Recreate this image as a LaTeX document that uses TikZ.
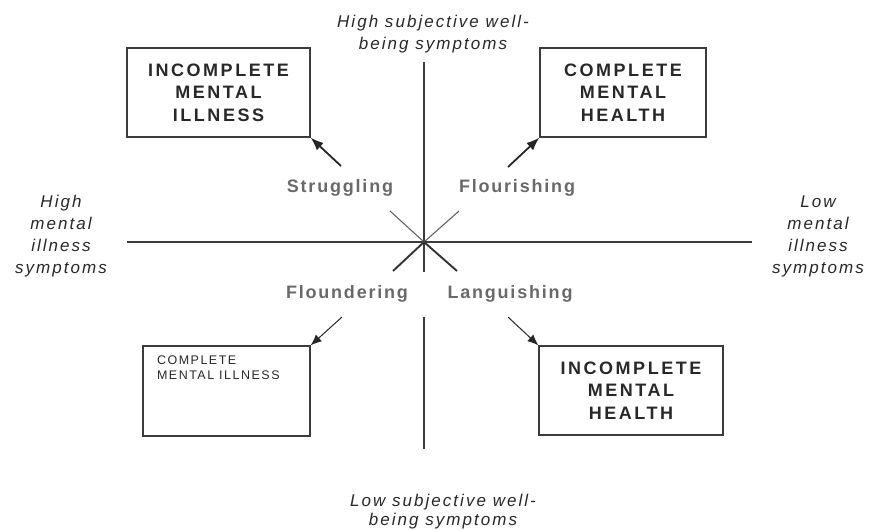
\documentclass[tikz,border=0pt]{standalone}
\usepackage{fontspec}
\setmainfont{Liberation Sans}
\newfontfamily\boxfont[LetterSpace=14]{Liberation Sans}
\newfontfamily\axisfont[LetterSpace=12]{Liberation Sans}
\newfontfamily\statefont[LetterSpace=10]{Liberation Sans}
\usetikzlibrary{arrows.meta, positioning}
\definecolor{axisgray}{RGB}{60,60,60}
\definecolor{textdark}{RGB}{40,40,40}
\definecolor{labelgray}{RGB}{105,105,105}
\tikzset{
  box/.style={rectangle, draw=axisgray, line width=1.3pt, inner sep=0pt},
  bigtext/.style={font=\boxfont\bfseries\fontsize{18}{22.5}\selectfont, text=textdark, align=center},
  state/.style={font=\statefont\bfseries\fontsize{18}{22}\selectfont, text=labelgray, anchor=base},
  axislabel/.style={font=\axisfont\itshape\fontsize{17}{22}\selectfont, text=textdark, align=center, anchor=base},
  axis/.style={line width=1.3pt, color=axisgray},
  diag/.style={line width=1.1pt, color=axisgray!80},
  diagdark/.style={line width=1.9pt, color=black!80},
  arrow/.style={-{Latex[length=13pt,width=10pt]}, line width=1.8pt, color=black!85},
  thinarrow/.style={-{Latex[length=11pt,width=9pt]}, line width=1pt, color=black!85}
}
\begin{document}
\begin{tikzpicture}[x=1pt, y=-1pt]
  \useasboundingbox (0,0) rectangle (873,530);

  % Axes
  \coordinate (c) at (424,242);
  \coordinate (top) at (424,62);
  \coordinate (vgap1) at (424,272);
  \coordinate (vgap2) at (424,317);
  \coordinate (bottom) at (424,449);
  \coordinate (left) at (127,242);
  \coordinate (right) at (752,242);
  \draw[axis] (top) -- (vgap1);
  \draw[axis] (vgap2) -- (bottom);
  \draw[axis] (left) -- (right);
  \draw[diag] (c) -- (390,211);
  \draw[diag] (c) -- (459,211);
  \draw[diagdark] (c) -- (393,271);
  \draw[diagdark] (c) -- (457,271);

  % Axis labels
  \node[axislabel] (hiwell) at (433,49) {High subjective well-\\being symptoms};
  \node[axislabel, font=\axisfont\itshape\fontsize{17}{19}\selectfont] (lowell) at (443,525) {Low subjective well-\\being symptoms};
  \node[axislabel] (himi) at (61,273) {High\\mental\\illness\\symptoms};
  \node[axislabel] (lomi) at (818,273) {Low\\mental\\illness\\symptoms};

  % Outcome boxes
  \node[box, bigtext, minimum width=183pt, minimum height=89pt] (incill) at (218.5,92.5) {INCOMPLETE\\MENTAL\\ILLNESS};
  \node[box, bigtext, minimum width=166pt, minimum height=89pt] (cmh) at (623,92.5) {COMPLETE\\MENTAL\\HEALTH};
  \node[box, minimum width=167pt, minimum height=90pt, text=textdark,
        font=\axisfont\fontsize{12.5}{15}\selectfont] (cmi) at (226.5,391)
        {\parbox[t][70pt][t]{139pt}{\raggedright COMPLETE\\MENTAL ILLNESS}};
  \node[box, bigtext, minimum width=184pt, minimum height=89pt] (imh) at (631,390.5) {INCOMPLETE\\MENTAL\\HEALTH};

  % States
  \node[state] (strug) at (340,192) {Struggling};
  \node[state] (flour) at (517,192) {Flourishing};
  \node[state] (flound) at (347,298) {Floundering};
  \node[state] (lang) at (510,298) {Languishing};

  % Arrows
  \coordinate (strugtail) at (341,166);
  \coordinate (flourtail) at (508,167);
  \coordinate (floundtail) at (342,317);
  \coordinate (langtail) at (508,317);
  \draw[arrow] (strugtail) -- (incill.south east);
  \draw[arrow] (flourtail) -- (cmh.south west);
  \draw[thinarrow] (floundtail) -- (cmi.north east);
  \draw[thinarrow] (langtail) -- (imh.north west);
\end{tikzpicture}
\end{document}
